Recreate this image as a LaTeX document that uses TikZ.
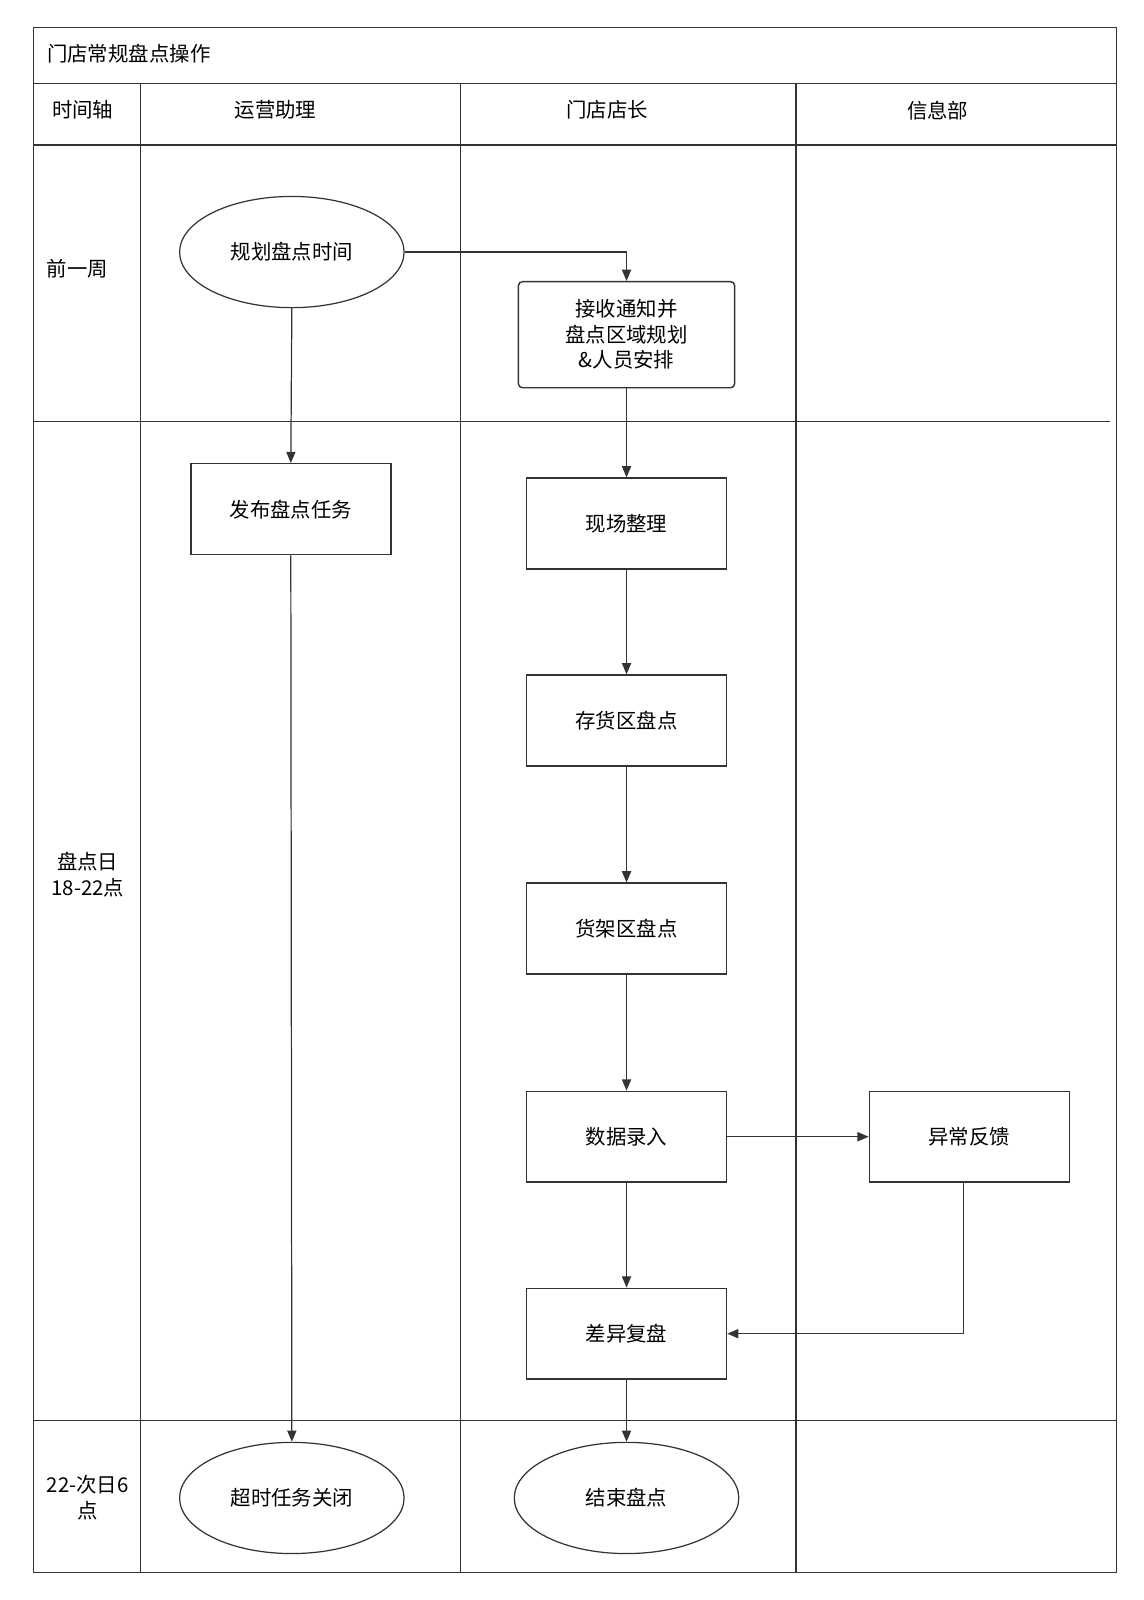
\documentclass[tikz,border=0pt]{standalone}
\usepackage{fontspec}
\newfontfamily\cjk{Noto Sans CJK SC}
\usetikzlibrary{shapes.geometric,arrows.meta}
\definecolor{ln}{HTML}{333333}
\begin{document}
\begin{tikzpicture}[x=1pt,y=-1pt,
  txt/.style={font=\cjk\fontsize{20}{25}\selectfont,text=black,align=center,inner sep=0pt},
  lane/.style={draw=ln,line width=1.2pt},
  procbox/.style={txt,draw=ln,line width=1.4pt,minimum width=196pt,minimum height=89pt},
  endell/.style={txt,ellipse,draw=ln,line width=1.2pt,minimum width=220pt,minimum height=109pt},
  flow/.style={draw=ln,line width=1.2pt,-{Triangle[length=11pt,width=9pt]}}]
\useasboundingbox (0,0) rectangle (1121,1568);
\fill[white] (0,0) rectangle (1121,1568);
% lanes
\draw[lane] (33,27) rectangle (1094,1541);
\draw[lane] (33,82) -- (1094,82);
\draw[lane] (33,142) -- (1094,142);
\draw[lane] (33,413) -- (1088,413);
\draw[lane] (33,1392) -- (1094,1392);
\draw[lane] (138,82) -- (138,1541);
\draw[lane] (451,82) -- (451,1541);
\draw[lane] (780,82) -- (780,1541);
% title and headers
\node[txt,anchor=west] (title) at (46,53) {门店常规盘点操作};
\node[txt] (h0) at (81,108) {时间轴};
\node[txt] (h1) at (270,108) {运营助理};
\node[txt] (h2) at (595,108) {门店店长};
\node[txt] (h3) at (919,108) {信息部};
\node[txt] (r1) at (76,263) {前一周};
\node[txt] (r2) at (86,857) {盘点日\\18-22点};
\node[txt] (r3) at (86,1468) {22-次日6\\点};
% nodes
\node[endell] (plan) at (286,247) {规划盘点时间};
\node[procbox,rounded corners=4pt,minimum width=212pt,minimum height=104pt] (recv) at (614,328) {接收通知并\\盘点区域规划\\\&人员安排};
\node[procbox] (pub) at (285,499) {发布盘点任务};
\node[procbox] (site) at (614,513) {现场整理};
\node[procbox] (stock) at (614,706) {存货区盘点};
\node[procbox] (shelf) at (614,910) {货架区盘点};
\node[procbox] (data) at (614,1114) {数据录入};
\node[procbox] (abn) at (950,1114) {异常反馈};
\node[procbox] (diff) at (614,1307) {差异复盘};
\node[endell] (close) at (286,1468) {超时任务关闭};
\node[endell] (fin) at (614,1468) {结束盘点};
% connectors
\draw[flow] (plan.east) -| (recv.north);
\draw[flow] (plan.south) -- (pub.north);
\draw[flow] (recv.south) -- (site.north);
\draw[flow] (site.south) -- (stock.north);
\draw[flow] (stock.south) -- (shelf.north);
\draw[flow] (shelf.south) -- (data.north);
\draw[flow] (data.east) -- (abn.west);
\draw[flow] (data.south) -- (diff.north);
\draw[flow] ([xshift=-6pt]abn.south) |- (diff.east);
\draw[flow] (diff.south) -- (fin.north);
\draw[flow] (pub.south) -- (close.north);
\end{tikzpicture}
\end{document}
